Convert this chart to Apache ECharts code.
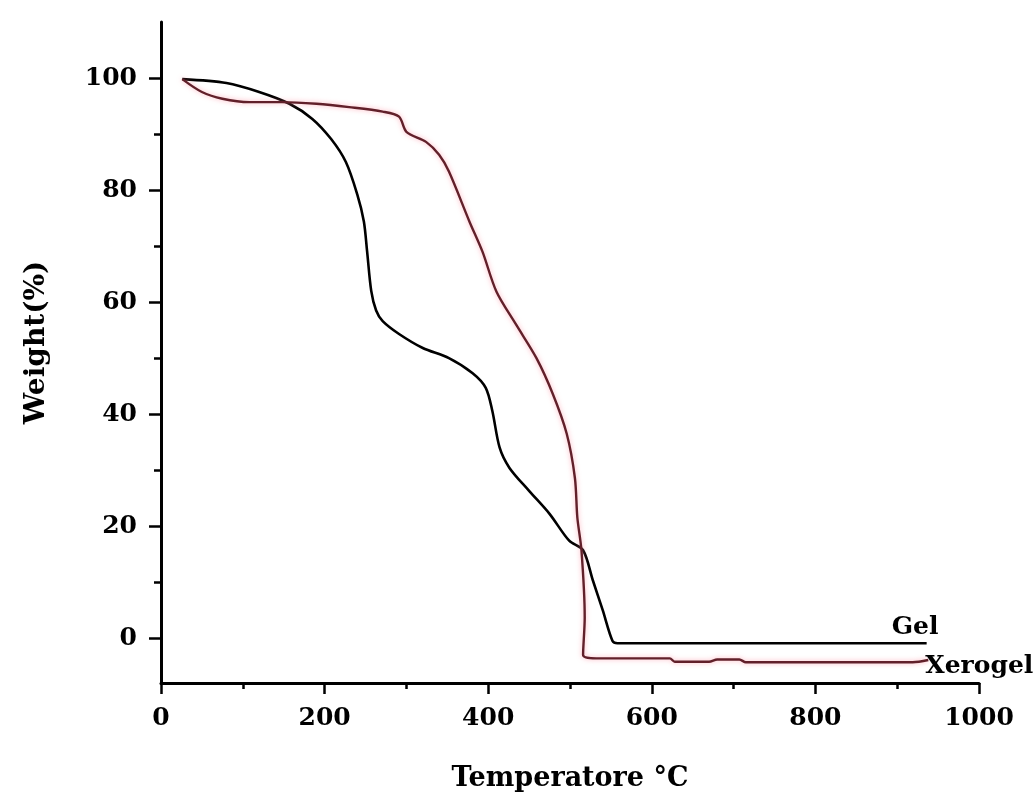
<!DOCTYPE html>
<html>
<head>
<meta charset="utf-8">
<script src="https://cdn.jsdelivr.net/npm/echarts@6/dist/echarts.min.js"></script>
<style>
  html, body { margin: 0; padding: 0; background: #fff; }
  #chart { width: 1035px; height: 796px; }
</style>
</head>
<body>
<div id="chart"></div>
<script>
// Gel curve (black)
var gelTemp = [26, 80, 120, 157, 185, 208, 226, 240, 248, 252, 257, 263, 271, 291, 320, 352, 381, 397, 405, 414, 426, 450, 475, 499, 516, 528, 540, 552, 558, 936];
var gelWeight = [99.8, 99.1, 97.5, 95.4, 92.7, 89.1, 85, 79.2, 74.4, 69, 62, 58.5, 56.6, 54.3, 51.8, 50, 47.3, 44.7, 40.6, 34, 30.4, 26.3, 22.2, 17.4, 15.7, 10.3, 5, -0.5, -0.9, -0.9];

// Xerogel curve (red)
var xeroTemp = [26, 50, 75, 108, 148, 190, 230, 271, 291, 300, 324, 340, 352, 377, 393, 410, 434, 459, 479, 496, 506, 509, 514, 518, 516, 532, 622, 628, 670, 680, 707, 715, 919, 938];
var xeroWeight = [99.8, 97.5, 96.3, 95.7, 95.7, 95.4, 94.8, 94, 93.1, 90.4, 88.6, 86.3, 83.3, 74.4, 69, 61.9, 56, 50, 43.6, 36.5, 28.6, 21.5, 15.7, 3.7, -3, -3.6, -3.6, -4.2, -4.2, -3.8, -3.8, -4.3, -4.3, -3.9];

var yMajor = [0, 20, 40, 60, 80, 100];
var yMinor = [10, 30, 50, 70, 90];

var FONT = 'DejaVu Serif';

function pairs(xs, ys) {
  var out = [];
  for (var i = 0; i < xs.length; i++) out.push([xs[i], ys[i]]);
  return out;
}

// text label next to the last point of a curve
function endMark(xs, ys, text, offset) {
  var n = xs.length - 1;
  return {
    symbol: 'circle',
    symbolSize: 0,
    silent: true,
    data: [{
      coord: [xs[n], ys[n]],
      label: {
        show: true,
        formatter: text,
        position: 'right',
        distance: 0,
        offset: offset,
        color: '#000',
        fontFamily: FONT,
        fontWeight: 'bold',
        fontSize: 25
      }
    }]
  };
}

var myChart = echarts.init(document.getElementById('chart'));

var option = {
  animation: false,
  backgroundColor: '#fff',
  grid: { left: 161, right: 56, top: 22, bottom: 113, outerBoundsMode: 'none' },
  xAxis: {
    type: 'value',
    min: 0,
    max: 1000,
    interval: 200,
    name: 'Temperatore °C',
    nameLocation: 'middle',
    nameGap: 82,
    nameTextStyle: { fontFamily: FONT, fontWeight: 'bold', fontSize: 27, color: '#000' },
    axisLine: { onZero: false, lineStyle: { color: '#000', width: 3 } },
    axisTick: { length: 11, lineStyle: { color: '#000', width: 2.5 } },
    minorTick: { show: true, splitNumber: 2, length: 6, lineStyle: { color: '#000', width: 2.5 } },
    splitLine: { show: false },
    axisLabel: {
      margin: 23, fontFamily: FONT, fontWeight: 'bold', fontSize: 25, color: '#000',
      formatter: function (v) { return String(v); }
    }
  },
  yAxis: [{
    type: 'value',
    min: -8,
    max: 110,
    name: 'Weight(%)',
    nameLocation: 'middle',
    nameGap: 110,
    nameTextStyle: { fontFamily: FONT, fontWeight: 'bold', fontSize: 28, color: '#000', padding: [0, 0, 0, 20] },
    axisLine: { show: true, onZero: false, lineStyle: { color: '#000', width: 3 } },
    axisTick: { show: true, length: 12, customValues: yMajor, lineStyle: { color: '#000', width: 2.5 } },
    splitLine: { show: false },
    axisLabel: { margin: 24, customValues: yMajor, fontFamily: FONT, fontWeight: 'bold', fontSize: 25, color: '#000' }
  }, {
    // minor ticks only
    type: 'value',
    position: 'left',
    min: -8,
    max: 110,
    axisLine: { show: false, onZero: false },
    axisTick: { show: true, length: 7, customValues: yMinor, lineStyle: { color: '#000', width: 2.5 } },
    splitLine: { show: false },
    axisLabel: { show: false }
  }],
  series: [{
    name: 'Gel',
    type: 'line',
    showSymbol: false,
    smooth: 0.3,
    data: pairs(gelTemp, gelWeight),
    lineStyle: { color: '#000', width: 2.6 },
    markPoint: endMark(gelTemp, gelWeight, 'Gel', [-35, -16])
  }, {
    name: 'Xerogel',
    type: 'line',
    showSymbol: false,
    smooth: 0.3,
    data: pairs(xeroTemp, xeroWeight),
    lineStyle: { color: '#61202a', width: 2.4, shadowColor: 'rgba(255,120,140,0.6)', shadowBlur: 5 },
    markPoint: endMark(xeroTemp, xeroWeight, 'Xerogel', [-3, 6])
  }]
};

myChart.setOption(option);
</script>
</body>
</html>
